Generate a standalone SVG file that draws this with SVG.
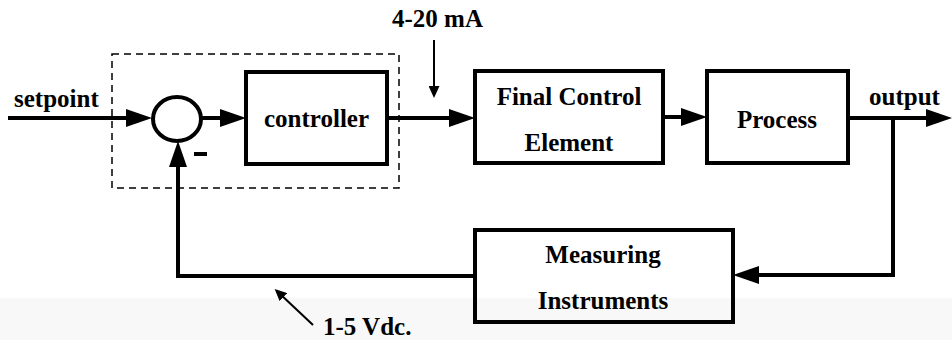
<svg xmlns="http://www.w3.org/2000/svg" width="952" height="340" viewBox="0 0 952 340">
<style>
text{font-family:'Times New Roman','Liberation Serif',Tinos,serif;font-weight:700;font-size:25px;fill:#000}
.box{fill:none;stroke:#000;stroke-width:4}
.c{text-anchor:middle}
.w{fill:none;stroke:#000;stroke-width:4}
.t{fill:none;stroke:#000;stroke-width:2}
</style>
<defs>
<marker id="ah" markerUnits="userSpaceOnUse" viewBox="0 0 26 18" refX="16" refY="9" markerWidth="26" markerHeight="18" orient="auto">
<path d="M0,0 L26,9 L0,18 Z" fill="#000"/>
</marker>
<marker id="sh" markerUnits="userSpaceOnUse" viewBox="0 0 12 11" refX="6" refY="5.5" markerWidth="12" markerHeight="11" orient="auto">
<path d="M0,0 L12,5.5 L0,11 Z" fill="#000"/>
</marker>
</defs>
<rect x="0" y="298" width="952" height="42" fill="#f8f8f8"/>
<rect x="112" y="54" width="287" height="134" fill="none" stroke="#000" stroke-width="1.5" stroke-dasharray="7 5"/>
<g id="summer">
<ellipse cx="177" cy="119" rx="24" ry="22" fill="none" stroke="#000" stroke-width="4"/>
<line x1="194" y1="154" x2="207" y2="154" stroke="#000" stroke-width="4"/>
</g>
<g id="controller">
<rect class="box" x="246" y="72" width="141" height="92"/>
<text class="c" x="316.5" y="127">controller</text>
</g>
<g id="final-control-element">
<rect class="box" x="475" y="71" width="188" height="92"/>
<text class="c" x="569" y="105">Final Control</text>
<text class="c" x="569" y="151">Element</text>
</g>
<g id="process">
<rect class="box" x="707" y="71" width="141" height="92"/>
<text class="c" x="777" y="128">Process</text>
</g>
<g id="measuring-instruments">
<rect class="box" x="475" y="230" width="258" height="92"/>
<text class="c" x="603" y="263">Measuring</text>
<text class="c" x="603" y="309">Instruments</text>
</g>
<g id="labels">
<text x="14" y="107">setpoint</text>
<text x="392" y="27">4-20 mA</text>
<text x="869" y="105">output</text>
<text x="323" y="335">1-5 Vdc.</text>
</g>
<g id="connectors">
<path class="w" d="M8,118 H142" marker-end="url(#ah)"/>
<path class="w" d="M201,118 H236" marker-end="url(#ah)"/>
<path class="w" d="M387,118 H465" marker-end="url(#ah)"/>
<path class="w" d="M663,117 H697" marker-end="url(#ah)"/>
<path class="w" d="M848,118 H942" marker-end="url(#ah)"/>
<path class="w" d="M893,118 V275 H743" marker-end="url(#ah)"/>
<path class="w" d="M475,276 H178 V151" marker-end="url(#ah)"/>
<path class="t" d="M434,40 V92" marker-end="url(#sh)"/>
<path class="t" d="M313,325 L279,293" marker-end="url(#sh)"/>
</g>
</svg>
